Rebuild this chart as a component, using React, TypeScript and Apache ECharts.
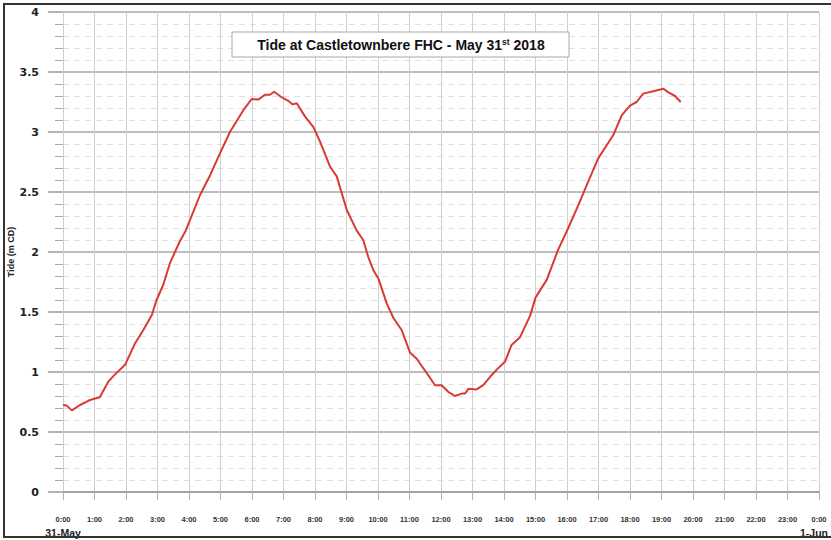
import React, { useEffect, useRef } from "react";
import * as echarts from "echarts";

// Time of reading (hours since 0:00 on 31-May) and tide height (m CD)
const hours = [
  0.0, 0.12, 0.28, 0.54, 0.8, 0.96, 1.17, 1.44, 1.65, 1.97, 2.29, 2.55, 2.82, 2.97,
  3.18, 3.4, 3.71, 3.9, 4.35, 4.67, 4.98, 5.3, 5.51, 5.72, 5.99, 6.2, 6.41, 6.57,
  6.7, 6.94, 7.15, 7.29, 7.42, 7.68, 7.95, 8.16, 8.48, 8.69, 9.01, 9.32, 9.53, 9.69,
  9.85, 10.01, 10.28, 10.49, 10.75, 11.02, 11.23, 11.55, 11.81, 12.02, 12.23, 12.44,
  12.66, 12.76, 12.87, 13.13, 13.34, 13.56, 13.77, 14.03, 14.24, 14.51, 14.83, 15.0,
  15.36, 15.72, 16.04, 16.36, 16.68, 16.99, 17.26, 17.47, 17.74, 18.0, 18.21, 18.42,
  18.74, 19.06, 19.22, 19.43, 19.61,
];
const tide = [
  0.725, 0.72, 0.68, 0.725, 0.76, 0.775, 0.79, 0.92, 0.98, 1.06, 1.24, 1.35, 1.475, 1.6,
  1.725, 1.91, 2.09, 2.18, 2.475, 2.64, 2.82, 3.0, 3.09, 3.18, 3.275, 3.27, 3.31, 3.31,
  3.335, 3.29, 3.26, 3.23, 3.24, 3.13, 3.04, 2.92, 2.71, 2.63, 2.35, 2.18, 2.1, 1.96,
  1.85, 1.78, 1.57, 1.45, 1.35, 1.16, 1.11, 0.99, 0.89, 0.89, 0.835, 0.8,
  0.82, 0.82, 0.86, 0.855, 0.89, 0.96, 1.02, 1.085, 1.225, 1.29, 1.47, 1.62,
  1.77, 2.02, 2.2, 2.39, 2.59, 2.78, 2.89, 2.975, 3.14, 3.22, 3.25, 3.32,
  3.34, 3.36, 3.33, 3.3, 3.25,
];
const startDate = "31-May";
const endDate = "1-Jun";
const titleMain = "Tide at Castletownbere FHC - May 31";
const titleSup = "st";
const titleYear = " 2018";
const yName = "Tide (m CD)";

const FONT = "'Liberation Sans', Arial, sans-serif";

export default function App() {
  const ref = useRef<HTMLDivElement>(null);
  useEffect(() => {
    if (!ref.current) return;
    const chart = echarts.init(ref.current, null, { renderer: "svg" });
    const data = hours.map((h, i) => [h, tide[i]]);
    chart.setOption({
      animation: false,
      backgroundColor: "#ffffff",
      grid: { left: 63, right: 12, top: 12, bottom: 48, containLabel: false, outerBoundsMode: "none" },
      xAxis: {
        type: "value",
        min: 0,
        max: 24,
        interval: 1,
        axisLine: { show: true, lineStyle: { color: "#9a9a9a", width: 1.5 } },
        axisTick: { show: true, length: 8, lineStyle: { color: "#b0b0b0" } },
        splitLine: { show: true, lineStyle: { color: "#d0d0d0", width: 1 } },
        axisLabel: {
          margin: 22,
          interval: 0,
          showMinLabel: true,
          showMaxLabel: true,
          hideOverlap: false,
          formatter: (v: number) => {
            const h = Math.round(v) % 24;
            const t = `{t|${h}:00}`;
            if (Math.round(v) === 0) return `${t}\n{d|${startDate}}`;
            if (Math.round(v) === 24) return `${t}\n{e|${endDate}}`;
            return t;
          },
          rich: {
            t: { fontFamily: FONT, fontSize: 7.5, fontWeight: "bold", color: "#333", lineHeight: 10 },
            d: { fontFamily: FONT, fontSize: 10.5, fontWeight: "bold", color: "#222", lineHeight: 18 },
            e: { fontFamily: FONT, fontSize: 10.5, fontWeight: "bold", color: "#222", lineHeight: 18, padding: [0, 10, 0, 0] },
          },
        },
      },
      yAxis: {
        type: "value",
        min: 0,
        max: 4,
        interval: 0.5,
        name: yName,
        nameLocation: "middle",
        nameGap: 48,
        nameMoveOverlap: false,
        nameTextStyle: { fontFamily: FONT, fontSize: 9, fontWeight: "bold", color: "#222" },
        axisLine: { show: false },
        axisTick: { show: true, length: 15, lineStyle: { color: "#9a9a9a", width: 1.5 } },
        minorTick: { show: true, splitNumber: 5, length: 8, lineStyle: { color: "#a8a8a8" } },
        splitLine: { show: true, lineStyle: { color: "#a8a8a8", width: 1.5 } },
        minorSplitLine: { show: true, lineStyle: { color: "#e0e0e0", type: [6, 5], width: 1 } },
        axisLabel: {
          margin: 24,
          fontFamily: "'DejaVu Sans', sans-serif",
          fontSize: 11,
          fontWeight: "bold",
          color: "#222",
          formatter: (v: number) => String(v),
        },
      },
      series: [
        {
          type: "line",
          data,
          showSymbol: false,
          smooth: false,
          lineStyle: { color: "#d93a35", width: 2 },
          z: 5,
        },
      ],
      graphic: [
        {
          type: "rect",
          shape: { x: 4, y: 4, width: 840, height: 533 },
          style: { fill: "none", stroke: "#333", lineWidth: 2 },
          silent: true,
          z: 100,
        },
        {
          type: "rect",
          shape: { x: 232, y: 32, width: 337, height: 25 },
          style: { fill: "#ffffff", stroke: "#a8a8a8", lineWidth: 1 },
          z: 50,
        },
        {
          type: "text",
          x: 401,
          y: 45,
          z: 51,
          style: {
            text: `{a|${titleMain}}{s|${titleSup}}{a|${titleYear}}`,
            align: "center",
            verticalAlign: "middle",
            rich: {
              a: { fontFamily: FONT, fontSize: 14, fontWeight: "bold", fill: "#111", lineHeight: 16, verticalAlign: "middle" },
              s: { fontFamily: FONT, fontSize: 8.5, fontWeight: "bold", fill: "#111", lineHeight: 9, verticalAlign: "top" },
            },
          },
        },
      ],
    });
    return () => chart.dispose();
  }, []);
  return (
    <div
      ref={ref}
      style={{ position: "absolute", left: 0, top: 0, width: 831, height: 540 }}
    />
  );
}
